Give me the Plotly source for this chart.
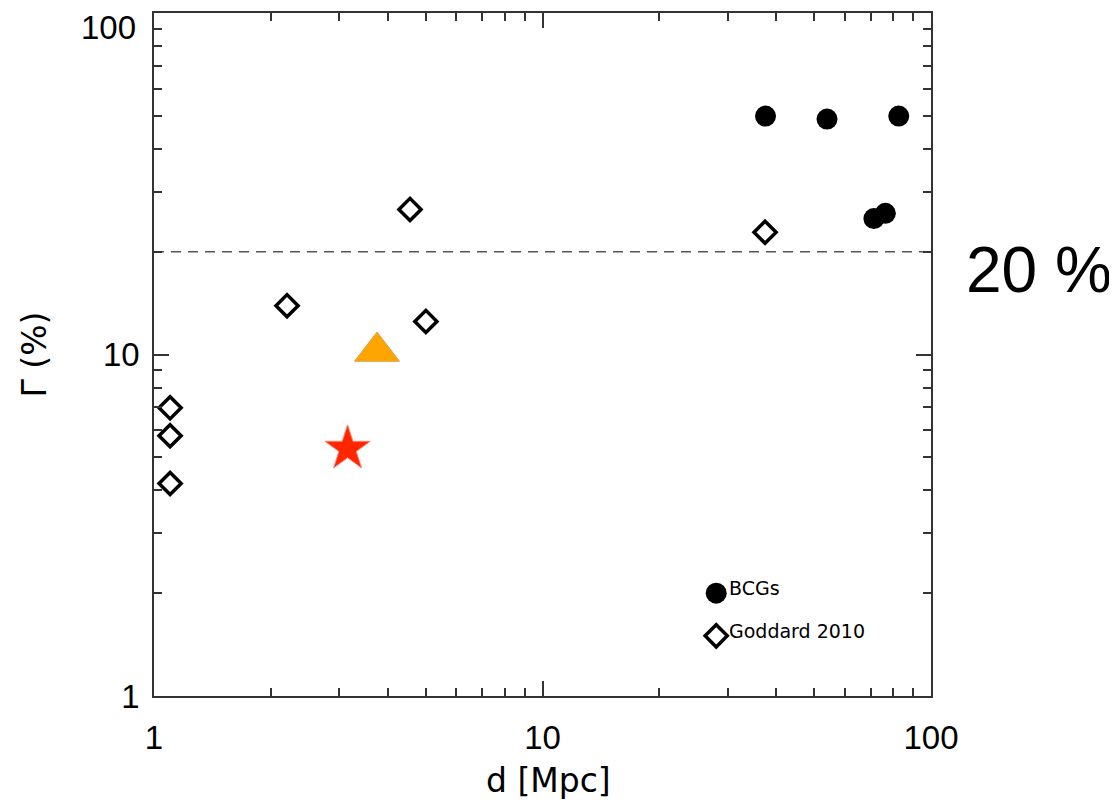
import numpy as np
import plotly.graph_objects as go

# ---- data ----
goddard_d = [1.10, 1.10, 1.10, 2.20, 4.56, 5.01, 37.4]
goddard_g = [6.98, 5.78, 4.19, 13.9, 26.6, 12.5, 22.8]

bcg_d = [37.5, 54.0, 82.6, 71.3, 76.3]
bcg_g = [49.9, 48.9, 49.9, 25.0, 25.9]

star_d = [3.15]
star_g = [5.3]

tri_d = [3.75]
tri_g = [10.2]

ref_line_d = [1, 100]
ref_line_g = [20, 20]

legend_labels = ["BCGs", "Goddard 2010"]
legend_d = [28.0, 28.0]
legend_g = [2.0, 1.5]

tick_vals = [1, 10, 100]
x_tick_text = ["1", "10", "100"]
y_tick_text = ["1", "10", ""]   # "100" drawn as a label below the top edge (as in the original)

FONT = "Liberation Sans"
FONT2 = "DejaVu Sans"

fig = go.Figure()

fig.add_trace(go.Scatter(x=ref_line_d, y=ref_line_g, mode="lines",
                         line=dict(color="#555555", width=1.5, dash="10px,7px"),
                         showlegend=False, hoverinfo="skip"))

fig.add_trace(go.Scatter(x=goddard_d, y=goddard_g, mode="markers",
                         marker=dict(symbol="diamond-open", size=17, color="black",
                                     line=dict(color="black", width=3.5)),
                         showlegend=False))

fig.add_trace(go.Scatter(x=bcg_d, y=bcg_g, mode="markers",
                         marker=dict(symbol="circle", size=21, color="black",
                                     line=dict(width=0)),
                         showlegend=False))

fig.add_trace(go.Scatter(x=star_d, y=star_g, mode="markers",
                         marker=dict(symbol="star", size=34, color="#ff2600",
                                     line=dict(color="#ff8070", width=1)),
                         showlegend=False))

fig.add_trace(go.Scatter(x=tri_d, y=tri_g, mode="markers",
                         marker=dict(symbol="triangle-up", size=39, color="#ffa500",
                                     line=dict(color="#d8a050", width=1)),
                         showlegend=False))

# in-plot legend
fig.add_trace(go.Scatter(x=[legend_d[0]], y=[legend_g[0]], mode="markers",
                         marker=dict(symbol="circle", size=21, color="black",
                                     line=dict(width=0)),
                         showlegend=False))
fig.add_trace(go.Scatter(x=[legend_d[1]], y=[legend_g[1]], mode="markers",
                         marker=dict(symbol="diamond-open", size=17, color="black",
                                     line=dict(color="black", width=3.5)),
                         showlegend=False))

annotations = []
for lab, xd, yg in zip(legend_labels, legend_d, legend_g):
    annotations.append(dict(x=np.log10(xd), y=np.log10(yg), xref="x", yref="y",
                            text=lab, showarrow=False, xanchor="left", yanchor="middle",
                            xshift=11, yshift=5,
                            font=dict(family=FONT2, size=19, color="black")))

annotations.append(dict(x=0, y=1, xref="paper", yref="paper", text="100",
                        showarrow=False, xanchor="right", yanchor="middle",
                        xshift=-16, yshift=-14,
                        font=dict(family=FONT, size=33, color="black")))
annotations.append(dict(x=0.508, y=0, xref="paper", yref="paper", text="d [Mpc]",
                        showarrow=False, xanchor="center", yanchor="middle",
                        yshift=-84, font=dict(family=FONT2, size=33, color="black")))
annotations.append(dict(x=0, y=0.5, xref="paper", yref="paper", text="Γ (%)",
                        showarrow=False, xanchor="center", yanchor="middle",
                        xshift=-120, textangle=-90,
                        font=dict(family=FONT2, size=33, color="black")))
annotations.append(dict(x=1, y=1, xref="paper", yref="paper", text="20 %",
                        showarrow=False, xanchor="center", yanchor="middle",
                        xshift=108, yshift=-257,
                        font=dict(family=FONT, size=64, color="black")))

axis_common = dict(type="log", range=[0, 2], showgrid=False, zeroline=False,
                   showline=True, linecolor="#333333", linewidth=1.5,
                   mirror="allticks", ticks="inside", ticklen=15, tickwidth=1.5,
                   tickcolor="#333333", tickvals=tick_vals,
                   tickfont=dict(family=FONT, size=33, color="black"),
                   minor=dict(ticks="inside", ticklen=8, tickwidth=1.5,
                              tickcolor="#333333", dtick="D1", showgrid=False))

# the page adds an 8px body margin, so the figure is shrunk by 8px and margins adjusted
fig.update_layout(
    width=1109, height=794,
    margin=dict(l=146, r=186, t=3, b=106),
    paper_bgcolor="white", plot_bgcolor="white",
    xaxis=dict(**axis_common, ticktext=x_tick_text, ticklabelstandoff=12),
    yaxis=dict(**axis_common, ticktext=y_tick_text, ticklabelstandoff=6),
    annotations=annotations,
    showlegend=False,
)

fig.write_html("out.html")
